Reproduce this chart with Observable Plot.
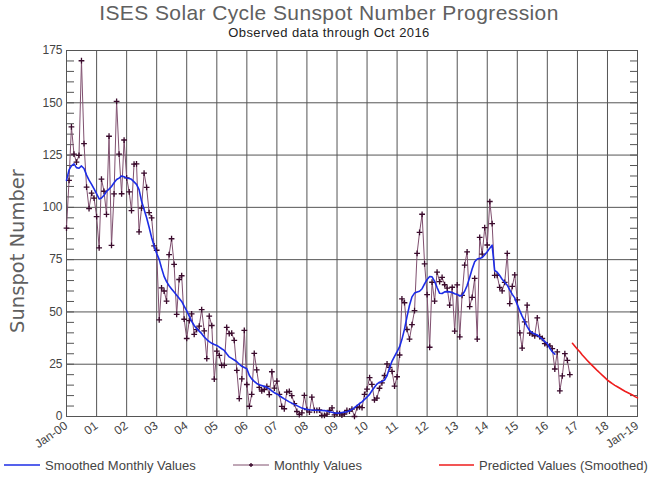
<!DOCTYPE html>
<html><head><meta charset="utf-8">
<script src="https://cdn.jsdelivr.net/npm/d3@7"></script>
<script src="https://cdn.jsdelivr.net/npm/@observablehq/plot@0.6"></script>
<style>
body{margin:0;background:#fff;width:658px;height:477px;position:relative;overflow:hidden;font-family:"Liberation Sans",Arial,sans-serif;}
#title{position:absolute;left:0;width:658px;top:1px;text-align:center;font-size:21px;color:#606060;letter-spacing:0.4px;line-height:24px}
#subtitle{position:absolute;left:0;width:658px;top:26px;text-align:center;font-size:13px;color:#222;letter-spacing:0.4px;line-height:13px}
#ylab{position:absolute;left:18px;top:251px;transform:translate(-50%,-50%) rotate(-90deg);white-space:nowrap;font-family:"DejaVu Sans",sans-serif;font-size:19.5px;color:#606060;line-height:22px}
#chart{position:absolute;left:0;top:40px}
#legend{position:absolute;left:0;top:455px}
</style></head>
<body>
<div id="title">ISES Solar Cycle Sunspot Number Progression</div>
<div id="subtitle">Observed data through Oct 2016</div>
<div id="chart"></div>
<div id="ylab">Sunspot Number</div>
<svg id="legend" width="658" height="22" font-family="Liberation Sans, Arial, sans-serif" font-size="13" fill="#444">
  <line x1="4" x2="40" y1="10" y2="10" stroke="#1c2ce6" stroke-width="1.5"/>
  <text x="45" y="14.5">Smoothed Monthly Values</text>
  <line x1="233" x2="269" y1="10" y2="10" stroke="#80506f" stroke-width="1"/>
  <path d="M249,10h4M251,8v4" stroke="#3a0a2c" stroke-width="1.3"/>
  <text x="274" y="14.5">Monthly Values</text>
  <line x1="439" x2="474" y1="10" y2="10" stroke="#ee1c1c" stroke-width="1.5"/>
  <text x="479" y="14.5">Predicted Values (Smoothed)</text>
</svg>
<script>
// Monthly sunspot numbers, Jan 2000 .. Oct 2016
const monthlyValues = [
  90.1,112.9,138.5,125.5,121.6,124.9,170.1,130.5,109.7,99.4,106.8,104.4,
  95.6,80.6,113.5,107.7,96.6,134.0,81.8,106.4,150.7,125.5,106.5,132.2,
  114.1,107.4,98.4,120.7,120.8,88.3,99.6,116.4,109.6,97.5,95.0,81.6,
  79.5,46.2,61.5,60.0,55.2,77.4,85.0,72.7,48.8,65.5,67.3,46.5,
  37.3,45.8,49.1,39.3,41.5,43.2,51.1,40.9,27.7,48.0,43.5,17.9,
  31.3,29.2,24.5,24.4,42.6,39.6,39.9,36.4,22.1,8.5,18.0,41.2,
  15.3,4.9,10.6,30.2,22.3,13.9,12.2,12.9,14.4,10.5,21.4,13.6,
  16.9,10.6,4.8,3.7,11.7,12.0,10.0,6.2,2.4,0.9,1.7,10.1,
  3.3,2.1,9.3,2.9,2.9,3.1,0.5,0.5,1.1,2.9,4.1,0.8,
  1.5,1.4,0.7,1.2,2.9,2.6,3.5,0.0,4.2,4.6,4.2,10.6,
  13.1,18.6,15.4,7.9,8.8,13.5,16.1,19.6,25.2,23.5,21.6,14.5,
  19.0,29.4,56.2,54.4,41.6,37.0,43.9,50.6,78.0,88.0,96.7,73.0,
  58.3,33.1,64.2,55.2,69.0,64.5,66.5,63.0,61.4,53.3,61.8,40.8,
  62.9,38.1,57.9,72.4,78.7,52.5,57.0,66.0,37.0,85.6,77.6,90.3,
  82.0,102.8,92.2,67.5,67.5,61.7,60.1,64.1,78.0,54.0,62.2,67.7,
  55.8,40.0,32.7,45.2,53.3,39.9,39.5,38.6,47.2,38.2,37.3,34.8,
  34.2,33.8,32.5,22.7,30.9,12.3,19.4,30.1,26.8,20.0
];
// Smoothed monthly values, Jan 2000 .. Apr 2016
const smoothedValues = [
  112.9,117.9,119.8,120.8,119.0,118.7,119.8,118.6,115.4,113.0,111.0,108.8,
  106.5,104.0,104.5,105.8,107.6,108.7,110.0,111.8,113.3,114.0,115.0,114.6,
  114.0,113.8,113.4,112.2,111.0,108.5,103.0,99.0,95.0,90.5,85.5,81.5,
  78.0,75.0,71.0,67.0,64.5,62.5,61.0,59.5,58.0,56.5,55.0,52.8,
  50.5,48.0,45.5,43.5,42.0,40.8,39.6,38.0,36.8,35.8,35.0,34.4,
  34.0,33.2,32.4,31.6,30.0,28.5,27.8,27.0,26.2,25.0,24.0,23.4,
  22.8,19.6,18.0,16.8,15.8,15.2,14.8,14.4,14.0,13.2,12.2,11.4,
  10.8,10.0,9.2,8.4,7.7,7.0,6.4,5.8,5.2,4.6,4.0,3.7,
  3.4,3.2,3.1,3.0,3.0,2.9,2.9,2.8,2.6,2.3,2.0,1.7,
  1.6,1.7,1.9,2.1,2.3,2.7,3.4,4.2,5.2,6.2,7.0,8.2,
  9.3,10.6,12.3,14.0,15.5,16.4,16.7,17.4,19.6,23.2,26.5,28.8,
  31.0,33.4,36.9,41.8,47.6,53.2,57.2,59.0,59.5,59.9,61.1,63.4,
  65.5,66.9,66.8,64.6,61.7,58.9,58.8,59.6,59.7,59.6,59.3,58.7,
  58.4,57.6,57.9,59.9,62.6,66.5,70.5,74.0,75.3,75.6,76.0,77.3,
  78.8,80.5,81.9,69.8,69.0,67.4,65.6,64.2,62.8,60.6,58.4,56.7,
  53.5,50.5,48.0,45.5,43.0,41.0,40.0,39.5,39.0,38.0,37.0,35.8,
  34.8,32.6,31.0,29.8
];
// Predicted smoothed values, Nov 2016 .. Jan 2019
const predictedValues = [
  35.0,33.6,
  32.2,30.8,29.4,28.1,26.8,25.5,24.3,23.1,21.9,20.8,19.7,18.6,
  17.4,16.5,15.7,14.9,14.2,13.5,12.8,12.1,11.5,10.9,10.3,9.5,
  8.9
];
const yearLabels = ["Jan-00","01","02","03","04","05","06","07","08","09","10",
  "11","12","13","14","15","16","17","18","Jan-19"];
const yTicks = [0,25,50,75,100,125,150,175];
const yGrid = [25,50,75,100,125,150];
const minorTicks = d3.range(5,175,5);

const monthDate = (y, m) => new Date(Date.UTC(y, m, 1));
const monthly = monthlyValues.map((v,i)=>({date: monthDate(2000, i), value: v}));
const smoothed = smoothedValues.map((v,i)=>({date: monthDate(2000, i), value: v}));
const predicted = predictedValues.map((v,i)=>({date: monthDate(2016, 10 + i), value: v}));
const years = yearLabels.map((l,i)=>({date: monthDate(2000 + i, 0), label: l}));

const W = 658, H = 415, mL = 66, mR = 21, mT = 10, mB = 39;
const innerW = W - mL - mR;
const grid = "#555";

const chart = Plot.plot({
  width: W, height: H,
  marginLeft: mL, marginRight: mR, marginTop: mT, marginBottom: mB,
  style: {fontFamily: "Liberation Sans, Arial, sans-serif", fontSize: "12px", color: "#444", background: "white"},
  x: {type: "utc", domain: [years[0].date, years[years.length-1].date], axis: null},
  y: {domain: [0, 175], axis: null},
  marks: [
    Plot.ruleX(years.slice(1, -1), {x: "date", stroke: grid, strokeWidth: 1}),
    Plot.ruleY(yGrid, {stroke: grid, strokeWidth: 1}),
    Plot.tickY(minorTicks, {y: d => d, insetRight: innerW - 8, stroke: grid}),
    Plot.tickY(minorTicks, {y: d => d, insetLeft: innerW - 7, stroke: grid}),
    Plot.frame({stroke: grid, strokeWidth: 1}),
    Plot.line(monthly, {x: "date", y: "value", stroke: "#80506f", strokeWidth: 1}),
    Plot.dot(monthly, {x: "date", y: "value", symbol: "plus", r: 2, stroke: "#3a0a2c", strokeWidth: 1.3}),
    Plot.line(smoothed, {x: "date", y: "value", stroke: "#1c2ce6", strokeWidth: 1.6}),
    Plot.line(predicted, {x: "date", y: "value", stroke: "#ee1c1c", strokeWidth: 1.6}),
    Plot.text(yTicks, {y: d => d, text: d => String(d), frameAnchor: "left", textAnchor: "end", dx: -4, fill: "#444", fontSize: 12}),
    Plot.text(years, {x: "date", text: "label", frameAnchor: "bottom", textAnchor: "end", rotate: -35, dx: 2, dy: 11, fill: "#444", fontSize: 12})
  ]
});
document.getElementById("chart").appendChild(chart);
</script>
</body></html>
